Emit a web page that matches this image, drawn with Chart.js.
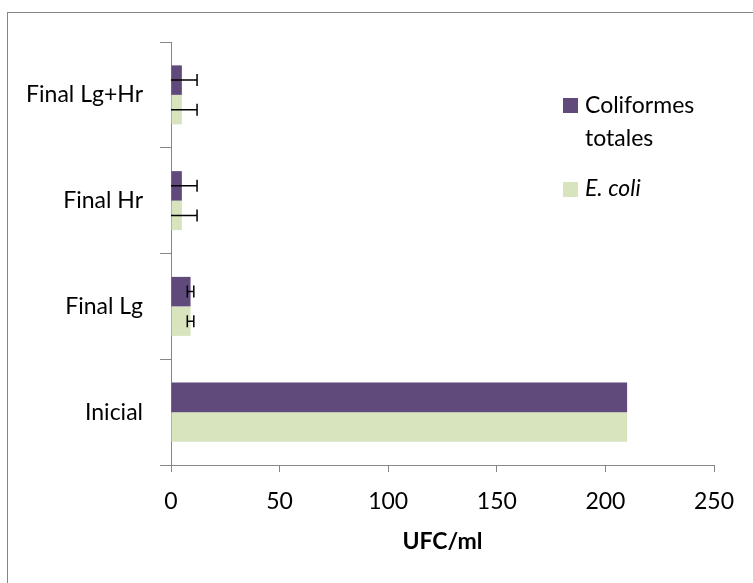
<!DOCTYPE html>
<html>
<head>
<meta charset="utf-8">
<script src="https://cdn.jsdelivr.net/npm/chart.js@4/dist/chart.umd.min.js"></script>
<style>
  html, body { margin: 0; padding: 0; background: #fff; }
  #wrap { position: relative; width: 753px; height: 583px; overflow: hidden; }
  #frame { position: absolute; left: 7px; top: 12px; width: 800px; height: 700px;
           border-left: 1px solid #868686; border-top: 1px solid #868686; }
  canvas { position: absolute; left: 0; top: 0; }
  .leg { position: absolute; font-family: Lato, "Liberation Sans", sans-serif; font-size: 23px; color: #000; line-height: 33px; white-space: nowrap; }
  .sw { position: absolute; width: 15px; height: 15px; }
</style>
</head>
<body>
<div id="wrap">
  <div id="frame"></div>
  <canvas id="c" width="753" height="583"></canvas>
  <div class="sw" style="left:563px; top:98px; background:#604A7B;"></div>
  <div class="leg" style="left:585px; top:88px;">Coliformes<br>totales</div>
  <div class="sw" style="left:563px; top:182px; background:#D7E4BD;"></div>
  <div class="leg" style="left:585px; top:171px;"><i>E. coli</i></div>
</div>
<script>
const categories = ['Final Lg+Hr', 'Final Hr', 'Final Lg', 'Inicial'];
const seriesNames = ['Coliformes totales', 'E. coli'];
const coliformes = [5, 5, 9, 210];
const ecoli = [5, 5, 9, 210];
const coliformesErr = [7, 7, 1.5, 0];
const ecoliErr = [7, 7, 1.5, 0];
const xTicks = [0, 50, 100, 150, 200, 250];

const FONT = 'Lato, "Liberation Sans", sans-serif';

const errorBars = {
  id: 'errorBars',
  afterDatasetsDraw(chart) {
    const ctx = chart.ctx;
    const xs = chart.scales.x;
    chart.data.datasets.forEach((ds, di) => {
      const meta = chart.getDatasetMeta(di);
      meta.data.forEach((el, i) => {
        const v = ds.data[i];
        const e = ds.errors[i];
        if (!e) return;
        const lo = Math.max(0, v - e);
        const x1 = xs.getPixelForValue(lo);
        const x2 = xs.getPixelForValue(v + e);
        const y = el.y;
        ctx.save();
        ctx.strokeStyle = '#000';
        ctx.lineWidth = 1.5;
        ctx.beginPath();
        ctx.moveTo(x1, y); ctx.lineTo(x2, y);
        ctx.moveTo(x2, y - 6); ctx.lineTo(x2, y + 6);
        if (v - e > 0) { ctx.moveTo(x1, y - 6); ctx.lineTo(x1, y + 6); }
        ctx.stroke();
        ctx.restore();
      });
    });
  }
};

new Chart(document.getElementById('c'), {
  type: 'bar',
  data: {
    labels: categories,
    datasets: [
      { label: seriesNames[0], data: coliformes, errors: coliformesErr, backgroundColor: '#604A7B',
        categoryPercentage: 0.558, barPercentage: 1.0 },
      { label: seriesNames[1], data: ecoli, errors: ecoliErr, backgroundColor: '#D7E4BD',
        categoryPercentage: 0.558, barPercentage: 1.0 }
    ]
  },
  options: {
    indexAxis: 'y',
    responsive: false,
    animation: false,
    layout: { padding: { top: 42, right: 39, left: 0, bottom: 0 } },
    plugins: { legend: { display: false }, tooltip: { enabled: false } },
    scales: {
      x: {
        min: 0, max: 250,
        afterBuildTicks(scale) { scale.ticks = xTicks.map(v => ({ value: v })); },
        afterFit(scale) { scale.height = 118; scale.paddingLeft = 0; scale.paddingRight = 0; },
        grid: { drawOnChartArea: false, tickLength: 7, color: '#868686', lineWidth: 1 },
        border: { color: '#868686', width: 1 },
        ticks: { color: '#000', font: { family: FONT, size: 23 }, padding: 16, maxRotation: 0 },
        title: { display: true, text: 'UFC/ml', color: '#000', font: { family: FONT, size: 23, weight: 'bold' }, padding: { top: 0, bottom: 28 } }
      },
      y: {
        afterFit(scale) { scale.width = 171; scale.paddingTop = 0; scale.paddingBottom = 0; },
        grid: { offset: true, drawOnChartArea: false, tickLength: 11, color: '#868686', lineWidth: 1 },
        border: { color: '#868686', width: 1 },
        ticks: { color: '#000', font: { family: FONT, size: 23 }, padding: 17 }
      }
    }
  },
  plugins: [errorBars]
});
</script>
</body>
</html>
